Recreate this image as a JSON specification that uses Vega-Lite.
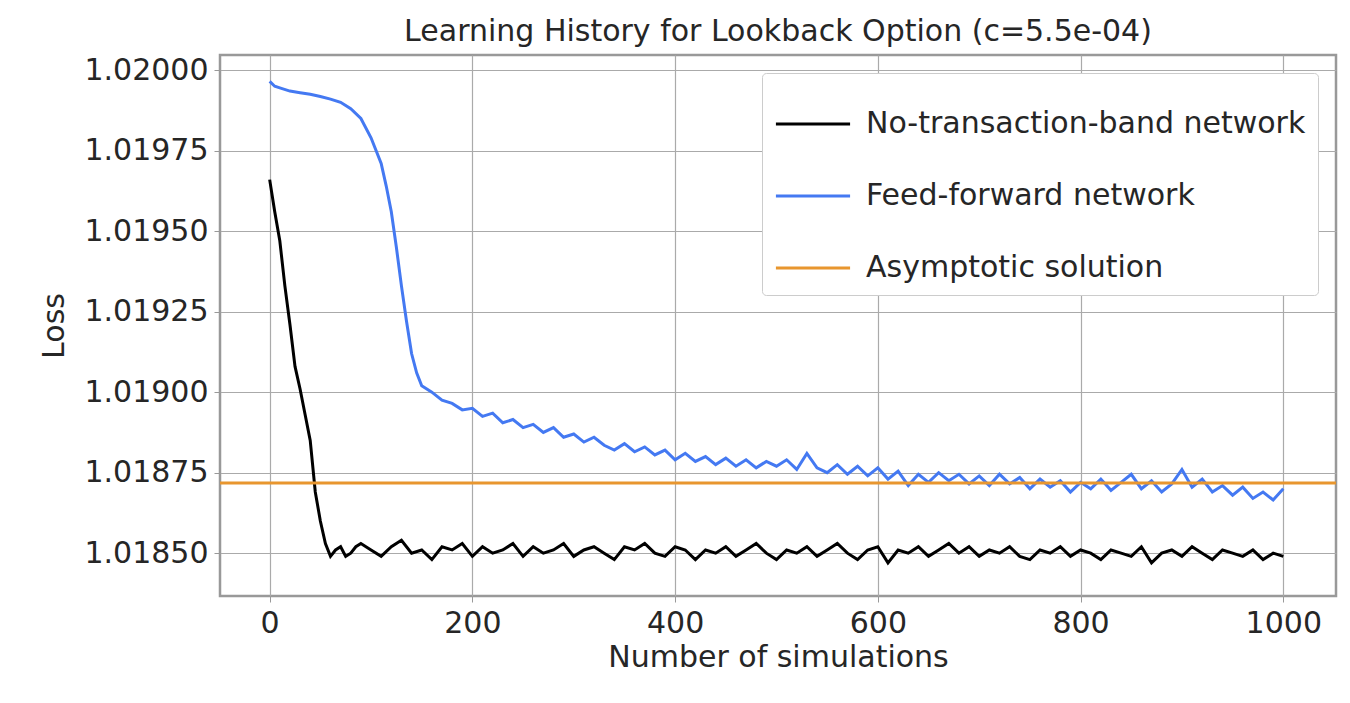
{
  "$schema": "https://vega.github.io/schema/vega-lite/v6.json",
  "title": {"text": "Learning History for Lookback Option (c=5.5e-04)", "fontSize": 30, "fontWeight": "normal", "color": "#262626", "font": "DejaVu Sans", "offset": 8},
  "width": 1116,
  "height": 541,
  "autosize": "none",
  "padding": {"left": 220, "top": 55, "right": 14, "bottom": 107},
  "background": "white",
  "data": {"values": [
    {"s": "No-transaction-band network", "x": 0, "y": 1.01966},
    {"s": "No-transaction-band network", "x": 5, "y": 1.01956},
    {"s": "No-transaction-band network", "x": 10, "y": 1.01947},
    {"s": "No-transaction-band network", "x": 15, "y": 1.01933},
    {"s": "No-transaction-band network", "x": 20, "y": 1.01921},
    {"s": "No-transaction-band network", "x": 25, "y": 1.01908},
    {"s": "No-transaction-band network", "x": 30, "y": 1.01901},
    {"s": "No-transaction-band network", "x": 35, "y": 1.01893},
    {"s": "No-transaction-band network", "x": 40, "y": 1.01885},
    {"s": "No-transaction-band network", "x": 45, "y": 1.01869},
    {"s": "No-transaction-band network", "x": 50, "y": 1.01860},
    {"s": "No-transaction-band network", "x": 55, "y": 1.01853},
    {"s": "No-transaction-band network", "x": 60, "y": 1.01849},
    {"s": "No-transaction-band network", "x": 65, "y": 1.01851},
    {"s": "No-transaction-band network", "x": 70, "y": 1.01852},
    {"s": "No-transaction-band network", "x": 75, "y": 1.01849},
    {"s": "No-transaction-band network", "x": 80, "y": 1.01850},
    {"s": "No-transaction-band network", "x": 85, "y": 1.01852},
    {"s": "No-transaction-band network", "x": 90, "y": 1.01853},
    {"s": "No-transaction-band network", "x": 100, "y": 1.01851},
    {"s": "No-transaction-band network", "x": 110, "y": 1.01849},
    {"s": "No-transaction-band network", "x": 120, "y": 1.01852},
    {"s": "No-transaction-band network", "x": 130, "y": 1.01854},
    {"s": "No-transaction-band network", "x": 140, "y": 1.01850},
    {"s": "No-transaction-band network", "x": 150, "y": 1.01851},
    {"s": "No-transaction-band network", "x": 160, "y": 1.01848},
    {"s": "No-transaction-band network", "x": 170, "y": 1.01852},
    {"s": "No-transaction-band network", "x": 180, "y": 1.01851},
    {"s": "No-transaction-band network", "x": 190, "y": 1.01853},
    {"s": "No-transaction-band network", "x": 200, "y": 1.01849},
    {"s": "No-transaction-band network", "x": 210, "y": 1.01852},
    {"s": "No-transaction-band network", "x": 220, "y": 1.01850},
    {"s": "No-transaction-band network", "x": 230, "y": 1.01851},
    {"s": "No-transaction-band network", "x": 240, "y": 1.01853},
    {"s": "No-transaction-band network", "x": 250, "y": 1.01849},
    {"s": "No-transaction-band network", "x": 260, "y": 1.01852},
    {"s": "No-transaction-band network", "x": 270, "y": 1.01850},
    {"s": "No-transaction-band network", "x": 280, "y": 1.01851},
    {"s": "No-transaction-band network", "x": 290, "y": 1.01853},
    {"s": "No-transaction-band network", "x": 300, "y": 1.01849},
    {"s": "No-transaction-band network", "x": 310, "y": 1.01851},
    {"s": "No-transaction-band network", "x": 320, "y": 1.01852},
    {"s": "No-transaction-band network", "x": 330, "y": 1.01850},
    {"s": "No-transaction-band network", "x": 340, "y": 1.01848},
    {"s": "No-transaction-band network", "x": 350, "y": 1.01852},
    {"s": "No-transaction-band network", "x": 360, "y": 1.01851},
    {"s": "No-transaction-band network", "x": 370, "y": 1.01853},
    {"s": "No-transaction-band network", "x": 380, "y": 1.01850},
    {"s": "No-transaction-band network", "x": 390, "y": 1.01849},
    {"s": "No-transaction-band network", "x": 400, "y": 1.01852},
    {"s": "No-transaction-band network", "x": 410, "y": 1.01851},
    {"s": "No-transaction-band network", "x": 420, "y": 1.01848},
    {"s": "No-transaction-band network", "x": 430, "y": 1.01851},
    {"s": "No-transaction-band network", "x": 440, "y": 1.01850},
    {"s": "No-transaction-band network", "x": 450, "y": 1.01852},
    {"s": "No-transaction-band network", "x": 460, "y": 1.01849},
    {"s": "No-transaction-band network", "x": 470, "y": 1.01851},
    {"s": "No-transaction-band network", "x": 480, "y": 1.01853},
    {"s": "No-transaction-band network", "x": 490, "y": 1.01850},
    {"s": "No-transaction-band network", "x": 500, "y": 1.01848},
    {"s": "No-transaction-band network", "x": 510, "y": 1.01851},
    {"s": "No-transaction-band network", "x": 520, "y": 1.01850},
    {"s": "No-transaction-band network", "x": 530, "y": 1.01852},
    {"s": "No-transaction-band network", "x": 540, "y": 1.01849},
    {"s": "No-transaction-band network", "x": 550, "y": 1.01851},
    {"s": "No-transaction-band network", "x": 560, "y": 1.01853},
    {"s": "No-transaction-band network", "x": 570, "y": 1.01850},
    {"s": "No-transaction-band network", "x": 580, "y": 1.01848},
    {"s": "No-transaction-band network", "x": 590, "y": 1.01851},
    {"s": "No-transaction-band network", "x": 600, "y": 1.01852},
    {"s": "No-transaction-band network", "x": 610, "y": 1.01847},
    {"s": "No-transaction-band network", "x": 620, "y": 1.01851},
    {"s": "No-transaction-band network", "x": 630, "y": 1.01850},
    {"s": "No-transaction-band network", "x": 640, "y": 1.01852},
    {"s": "No-transaction-band network", "x": 650, "y": 1.01849},
    {"s": "No-transaction-band network", "x": 660, "y": 1.01851},
    {"s": "No-transaction-band network", "x": 670, "y": 1.01853},
    {"s": "No-transaction-band network", "x": 680, "y": 1.01850},
    {"s": "No-transaction-band network", "x": 690, "y": 1.01852},
    {"s": "No-transaction-band network", "x": 700, "y": 1.01849},
    {"s": "No-transaction-band network", "x": 710, "y": 1.01851},
    {"s": "No-transaction-band network", "x": 720, "y": 1.01850},
    {"s": "No-transaction-band network", "x": 730, "y": 1.01852},
    {"s": "No-transaction-band network", "x": 740, "y": 1.01849},
    {"s": "No-transaction-band network", "x": 750, "y": 1.01848},
    {"s": "No-transaction-band network", "x": 760, "y": 1.01851},
    {"s": "No-transaction-band network", "x": 770, "y": 1.01850},
    {"s": "No-transaction-band network", "x": 780, "y": 1.01852},
    {"s": "No-transaction-band network", "x": 790, "y": 1.01849},
    {"s": "No-transaction-band network", "x": 800, "y": 1.01851},
    {"s": "No-transaction-band network", "x": 810, "y": 1.01850},
    {"s": "No-transaction-band network", "x": 820, "y": 1.01848},
    {"s": "No-transaction-band network", "x": 830, "y": 1.01851},
    {"s": "No-transaction-band network", "x": 840, "y": 1.01850},
    {"s": "No-transaction-band network", "x": 850, "y": 1.01849},
    {"s": "No-transaction-band network", "x": 860, "y": 1.01852},
    {"s": "No-transaction-band network", "x": 870, "y": 1.01847},
    {"s": "No-transaction-band network", "x": 880, "y": 1.01850},
    {"s": "No-transaction-band network", "x": 890, "y": 1.01851},
    {"s": "No-transaction-band network", "x": 900, "y": 1.01849},
    {"s": "No-transaction-band network", "x": 910, "y": 1.01852},
    {"s": "No-transaction-band network", "x": 920, "y": 1.01850},
    {"s": "No-transaction-band network", "x": 930, "y": 1.01848},
    {"s": "No-transaction-band network", "x": 940, "y": 1.01851},
    {"s": "No-transaction-band network", "x": 950, "y": 1.01850},
    {"s": "No-transaction-band network", "x": 960, "y": 1.01849},
    {"s": "No-transaction-band network", "x": 970, "y": 1.01851},
    {"s": "No-transaction-band network", "x": 980, "y": 1.01848},
    {"s": "No-transaction-band network", "x": 990, "y": 1.01850},
    {"s": "No-transaction-band network", "x": 1000, "y": 1.01849},
    {"s": "Feed-forward network", "x": 0, "y": 1.019965},
    {"s": "Feed-forward network", "x": 5, "y": 1.019950},
    {"s": "Feed-forward network", "x": 10, "y": 1.019945},
    {"s": "Feed-forward network", "x": 20, "y": 1.019935},
    {"s": "Feed-forward network", "x": 30, "y": 1.019930},
    {"s": "Feed-forward network", "x": 40, "y": 1.019925},
    {"s": "Feed-forward network", "x": 50, "y": 1.019918},
    {"s": "Feed-forward network", "x": 60, "y": 1.019910},
    {"s": "Feed-forward network", "x": 70, "y": 1.019900},
    {"s": "Feed-forward network", "x": 80, "y": 1.019880},
    {"s": "Feed-forward network", "x": 90, "y": 1.019850},
    {"s": "Feed-forward network", "x": 100, "y": 1.019790},
    {"s": "Feed-forward network", "x": 110, "y": 1.019710},
    {"s": "Feed-forward network", "x": 115, "y": 1.019640},
    {"s": "Feed-forward network", "x": 120, "y": 1.019560},
    {"s": "Feed-forward network", "x": 125, "y": 1.019450},
    {"s": "Feed-forward network", "x": 130, "y": 1.019330},
    {"s": "Feed-forward network", "x": 135, "y": 1.019220},
    {"s": "Feed-forward network", "x": 140, "y": 1.019120},
    {"s": "Feed-forward network", "x": 145, "y": 1.019060},
    {"s": "Feed-forward network", "x": 150, "y": 1.019020},
    {"s": "Feed-forward network", "x": 160, "y": 1.019000},
    {"s": "Feed-forward network", "x": 170, "y": 1.018975},
    {"s": "Feed-forward network", "x": 180, "y": 1.018965},
    {"s": "Feed-forward network", "x": 190, "y": 1.018945},
    {"s": "Feed-forward network", "x": 200, "y": 1.018950},
    {"s": "Feed-forward network", "x": 210, "y": 1.018925},
    {"s": "Feed-forward network", "x": 220, "y": 1.018935},
    {"s": "Feed-forward network", "x": 230, "y": 1.018905},
    {"s": "Feed-forward network", "x": 240, "y": 1.018915},
    {"s": "Feed-forward network", "x": 250, "y": 1.018890},
    {"s": "Feed-forward network", "x": 260, "y": 1.018900},
    {"s": "Feed-forward network", "x": 270, "y": 1.018875},
    {"s": "Feed-forward network", "x": 280, "y": 1.018890},
    {"s": "Feed-forward network", "x": 290, "y": 1.018860},
    {"s": "Feed-forward network", "x": 300, "y": 1.018870},
    {"s": "Feed-forward network", "x": 310, "y": 1.018845},
    {"s": "Feed-forward network", "x": 320, "y": 1.018860},
    {"s": "Feed-forward network", "x": 330, "y": 1.018835},
    {"s": "Feed-forward network", "x": 340, "y": 1.018820},
    {"s": "Feed-forward network", "x": 350, "y": 1.018840},
    {"s": "Feed-forward network", "x": 360, "y": 1.018815},
    {"s": "Feed-forward network", "x": 370, "y": 1.018830},
    {"s": "Feed-forward network", "x": 380, "y": 1.018805},
    {"s": "Feed-forward network", "x": 390, "y": 1.018820},
    {"s": "Feed-forward network", "x": 400, "y": 1.018790},
    {"s": "Feed-forward network", "x": 410, "y": 1.018810},
    {"s": "Feed-forward network", "x": 420, "y": 1.018785},
    {"s": "Feed-forward network", "x": 430, "y": 1.018800},
    {"s": "Feed-forward network", "x": 440, "y": 1.018775},
    {"s": "Feed-forward network", "x": 450, "y": 1.018795},
    {"s": "Feed-forward network", "x": 460, "y": 1.018770},
    {"s": "Feed-forward network", "x": 470, "y": 1.018790},
    {"s": "Feed-forward network", "x": 480, "y": 1.018765},
    {"s": "Feed-forward network", "x": 490, "y": 1.018785},
    {"s": "Feed-forward network", "x": 500, "y": 1.018770},
    {"s": "Feed-forward network", "x": 510, "y": 1.018790},
    {"s": "Feed-forward network", "x": 520, "y": 1.018760},
    {"s": "Feed-forward network", "x": 530, "y": 1.018810},
    {"s": "Feed-forward network", "x": 540, "y": 1.018765},
    {"s": "Feed-forward network", "x": 550, "y": 1.018750},
    {"s": "Feed-forward network", "x": 560, "y": 1.018775},
    {"s": "Feed-forward network", "x": 570, "y": 1.018745},
    {"s": "Feed-forward network", "x": 580, "y": 1.018770},
    {"s": "Feed-forward network", "x": 590, "y": 1.018740},
    {"s": "Feed-forward network", "x": 600, "y": 1.018765},
    {"s": "Feed-forward network", "x": 610, "y": 1.018730},
    {"s": "Feed-forward network", "x": 620, "y": 1.018755},
    {"s": "Feed-forward network", "x": 630, "y": 1.018710},
    {"s": "Feed-forward network", "x": 640, "y": 1.018745},
    {"s": "Feed-forward network", "x": 650, "y": 1.018720},
    {"s": "Feed-forward network", "x": 660, "y": 1.018750},
    {"s": "Feed-forward network", "x": 670, "y": 1.018725},
    {"s": "Feed-forward network", "x": 680, "y": 1.018745},
    {"s": "Feed-forward network", "x": 690, "y": 1.018715},
    {"s": "Feed-forward network", "x": 700, "y": 1.018740},
    {"s": "Feed-forward network", "x": 710, "y": 1.018710},
    {"s": "Feed-forward network", "x": 720, "y": 1.018745},
    {"s": "Feed-forward network", "x": 730, "y": 1.018715},
    {"s": "Feed-forward network", "x": 740, "y": 1.018735},
    {"s": "Feed-forward network", "x": 750, "y": 1.018700},
    {"s": "Feed-forward network", "x": 760, "y": 1.018730},
    {"s": "Feed-forward network", "x": 770, "y": 1.018705},
    {"s": "Feed-forward network", "x": 780, "y": 1.018725},
    {"s": "Feed-forward network", "x": 790, "y": 1.018690},
    {"s": "Feed-forward network", "x": 800, "y": 1.018720},
    {"s": "Feed-forward network", "x": 810, "y": 1.018700},
    {"s": "Feed-forward network", "x": 820, "y": 1.018730},
    {"s": "Feed-forward network", "x": 830, "y": 1.018695},
    {"s": "Feed-forward network", "x": 840, "y": 1.018720},
    {"s": "Feed-forward network", "x": 850, "y": 1.018745},
    {"s": "Feed-forward network", "x": 860, "y": 1.018700},
    {"s": "Feed-forward network", "x": 870, "y": 1.018725},
    {"s": "Feed-forward network", "x": 880, "y": 1.018690},
    {"s": "Feed-forward network", "x": 890, "y": 1.018715},
    {"s": "Feed-forward network", "x": 900, "y": 1.018760},
    {"s": "Feed-forward network", "x": 910, "y": 1.018705},
    {"s": "Feed-forward network", "x": 920, "y": 1.018730},
    {"s": "Feed-forward network", "x": 930, "y": 1.018690},
    {"s": "Feed-forward network", "x": 940, "y": 1.018710},
    {"s": "Feed-forward network", "x": 950, "y": 1.018680},
    {"s": "Feed-forward network", "x": 960, "y": 1.018705},
    {"s": "Feed-forward network", "x": 970, "y": 1.018670},
    {"s": "Feed-forward network", "x": 980, "y": 1.018690},
    {"s": "Feed-forward network", "x": 990, "y": 1.018665},
    {"s": "Feed-forward network", "x": 1000, "y": 1.018700},
    {"s": "Asymptotic solution", "x": -49, "y": 1.018718},
    {"s": "Asymptotic solution", "x": 1052, "y": 1.018718}
  ]},
  "mark": {"type": "line", "strokeWidth": 3, "clip": true},
  "encoding": {
    "x": {"field": "x", "type": "quantitative", "title": "Number of simulations",
      "scale": {"domain": [-49, 1052], "nice": false, "zero": false},
      "axis": {"values": [0, 200, 400, 600, 800, 1000], "format": "d"}},
    "y": {"field": "y", "type": "quantitative", "title": "Loss",
      "scale": {"domain": [1.018367, 1.020047], "nice": false, "zero": false},
      "axis": {"values": [1.0185, 1.01875, 1.019, 1.01925, 1.0195, 1.01975, 1.02], "format": ".5f", "titlePadding": 14}},
    "color": {"field": "s", "type": "nominal", "title": null,
      "sort": ["No-transaction-band network", "Feed-forward network", "Asymptotic solution"],
      "scale": {"domain": ["No-transaction-band network", "Feed-forward network", "Asymptotic solution"], "range": ["#000000", "#4479f2", "#e8962e"]},
      "legend": {"orient": "top-right", "offset": 18, "symbolType": "stroke", "symbolSize": 5500, "symbolStrokeWidth": 3,
        "labelFontSize": 30, "labelFont": "DejaVu Sans", "labelColor": "#262626", "rowPadding": 18, "labelOffset": 14,
        "fillColor": "white", "strokeColor": "#cccccc", "padding": 12, "cornerRadius": 4, "labelLimit": 600}}
  },
  "config": {
    "font": "DejaVu Sans",
    "view": {"stroke": "#999999", "strokeWidth": 2.5},
    "axis": {"labelFontSize": 30, "titleFontSize": 30, "titleFontWeight": "normal", "labelColor": "#262626", "titleColor": "#262626",
      "gridColor": "#aaaaaa", "gridWidth": 1.2, "tickColor": "#999999", "tickSize": 6, "domain": false, "labelPadding": 6}
  }
}
